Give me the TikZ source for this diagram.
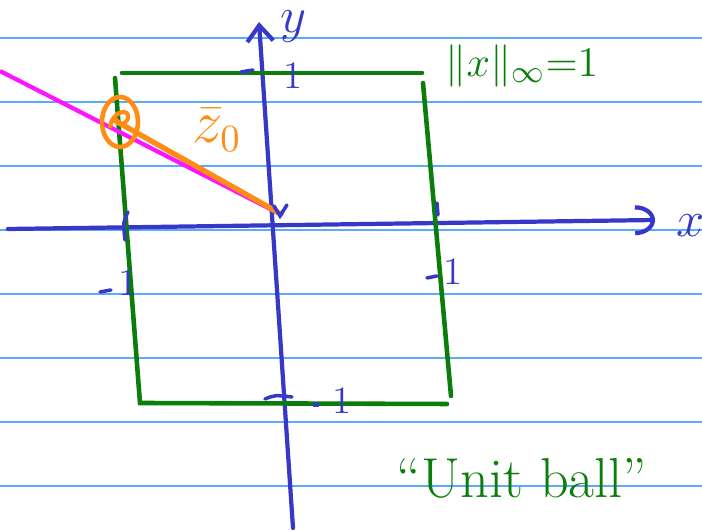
\documentclass[tikz,border=0pt]{standalone}
\usepackage{tikz}
\usetikzlibrary{arrows.meta,positioning,calc}
\definecolor{rulecol}{RGB}{90,170,255}
\definecolor{penblue}{RGB}{55,55,200}
\definecolor{pengreen}{RGB}{10,125,10}
\definecolor{penorange}{RGB}{255,140,20}
\definecolor{penmagenta}{RGB}{255,20,255}

\begin{document}
\begin{tikzpicture}[x=0.01cm, y=-0.01cm,
  ruled/.style={draw=rulecol, line width=0.45pt},
  axis/.style={draw=penblue, line width=1.2pt, line cap=round},
  ball/.style={draw=pengreen, line width=1.3pt, line cap=round},
  tickmk/.style={draw=penblue, line width=1pt, line cap=round},
  lbl/.style={text=penblue, font=\fontsize{11}{12}\selectfont, inner sep=0pt},
  glbl/.style={text=pengreen, inner sep=0pt},
  olbl/.style={text=penorange, inner sep=0pt},
]
\useasboundingbox (0,0) rectangle (702,531);

%==================== RULED PAPER ====================
\foreach \i in {0,...,7}
  \draw[ruled] (0,{38+64*\i}) -- (702,{38+64*\i});

%==================== AXES ====================
\coordinate (xL) at (8,229);
\coordinate (xR) at (655,220);
\coordinate (yB) at (293,528);
\coordinate (yT) at (259,22);
\coordinate (O)  at (278,213);
\draw[axis, -{Arc Barb[length=2mm, width=3mm]}] (xL) -- (xR);
\draw[axis, -{Straight Barb[length=1.6mm, width=2.6mm]}] (yB) -- (yT);
\node[lbl, font=\fontsize{14}{16}\selectfont] (ylab) at (293,27) {$y$};
\node[lbl, font=\fontsize{14}{16}\selectfont] (xlab) at (691,226) {$x$};

%==================== UNIT BALL (green square) ====================
\coordinate (TL) at (122,73);
\coordinate (TR) at (422,73);
\coordinate (LT) at (115,78);
\coordinate (BL) at (140,403);
\coordinate (BR) at (447,404);
\coordinate (RT) at (423,83);
\coordinate (RB) at (451,396);
\draw[ball] (TL) -- (TR);
\draw[ball] (LT) -- (BL) -- (BR);
\draw[ball] (RT) -- (RB);

%==================== TICKS ====================
\draw[tickmk] (241,72) -- (253,70);
\node[lbl] (t1) at (293,76) {1};
\draw[tickmk] (128,212) .. controls (123,222) .. (125,240);
\draw[tickmk] (437,203) -- (438,215);
\draw[tickmk] (427,278) -- (437,276);
\node[lbl] (r1) at (453,272) {1};
\draw[tickmk] (100,292) -- (111,290);
\node[lbl] (l1) at (128,283) {1};
\draw[tickmk] (265,399) .. controls (275,395) .. (292,397);
\draw[tickmk] (314,405) -- (318,405);
\node[lbl] (b1) at (342,401) {1};

%==================== z_0 ====================
\coordinate (mS) at (0,71);
\coordinate (P)  at (114,120);
\draw[penmagenta, line width=1.2pt] (mS) -- (O);
\draw[penorange, line width=1.5pt, line cap=round] (P) -- (281,214);
\draw[penorange, line width=1.3pt] (120,122) ellipse [x radius=18, y radius=25];
\draw[penorange, line width=1.2pt] (110,128) .. controls (112,110) and (130,108) .. (128,118)
  .. controls (126,126) and (114,126) .. (116,118);
\draw[tickmk] (274,206) -- (280,216) -- (287,205);
\node[olbl, font=\fontsize{16}{18}\selectfont] (z0) at (217,130) {$\bar z_0$};

%==================== NOTES ====================
\node[glbl, font=\fontsize{13}{15}\selectfont] (norm) at (522,66) {$\|x\|_\infty{=}1$};
\node[glbl, font=\fontsize{16}{18}\selectfont] (uball) at (522,478) {``Unit ball''};

\end{tikzpicture}
\end{document}
